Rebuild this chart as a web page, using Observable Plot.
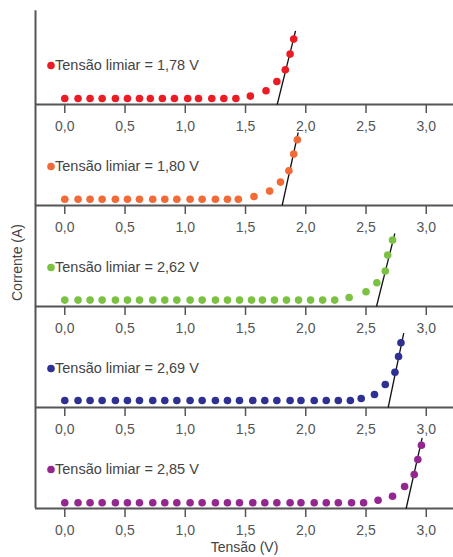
<!DOCTYPE html>
<html><head><meta charset="utf-8">
<script src="https://cdn.jsdelivr.net/npm/d3@7"></script>
<script src="https://cdn.jsdelivr.net/npm/@observablehq/plot@0.6"></script>
<style>body{margin:0;background:#fff;}</style>
</head><body><div id="chart"></div>
<script>
// Threshold voltages (one panel each) and point colours
const thresholds = [1.78, 1.80, 2.62, 2.69, 2.85];
const colors = ["#ec1c24", "#f26a36", "#7cc242", "#2e3192", "#93278f"];

// Measured points (Tensão V, Corrente in arbitrary units)
const v178 = [0,0.11,0.21,0.31,0.42,0.52,0.62,0.71,0.81,0.91,1.02,1.11,1.22,1.32,1.42,1.54,1.67,1.76,1.83,1.87,1.90];
const i178 = [6,6,6,6,6,6,6,6,6,6,6,6,6,6,6,8.4,13.7,23,34.7,50.4,65.4];
const v180 = [0,0.11,0.21,0.31,0.42,0.52,0.62,0.73,0.83,0.93,1.04,1.14,1.25,1.35,1.44,1.57,1.70,1.79,1.86,1.90,1.93];
const i180 = [6.3,6.3,6.3,6.3,6.3,6.3,6.3,6.3,6.3,6.3,6.3,6.3,6.3,6.3,6.3,9,14.4,23.4,34.7,51.4,65.7];
const v262 = [0,0.11,0.21,0.31,0.42,0.52,0.62,0.73,0.83,0.93,1.04,1.14,1.25,1.35,1.45,1.55,1.64,1.74,1.84,1.94,2.04,2.14,2.24,2.36,2.50,2.59,2.66,2.68,2.72];
const i262 = [6.4,6.4,6.4,6.4,6.4,6.4,6.4,6.4,6.4,6.4,6.4,6.4,6.4,6.4,6.4,6.4,6.4,6.4,6.4,6.4,6.4,6.4,6.4,9,14.7,23.7,35.4,51.4,66.4];
const v269 = [0,0.11,0.21,0.31,0.42,0.52,0.62,0.73,0.83,0.93,1.04,1.14,1.25,1.35,1.45,1.56,1.66,1.76,1.87,1.96,2.07,2.17,2.27,2.37,2.46,2.57,2.66,2.74,2.77,2.79];
const i269 = [7,7,7,7,7,7,7,7,7,7,7,7,7,7,7,7,7,7,7,7,7,7,7,7,9,13,23,35.3,51,64.7];
const v285 = [0,0.11,0.21,0.31,0.42,0.52,0.62,0.73,0.83,0.93,1.04,1.14,1.25,1.35,1.45,1.56,1.66,1.76,1.87,1.96,2.07,2.17,2.27,2.38,2.48,2.60,2.72,2.82,2.90,2.93,2.96];
const i285 = [5.7,5.7,5.7,5.7,5.7,5.7,5.7,5.7,5.7,5.7,5.7,5.7,5.7,5.7,5.7,5.7,5.7,5.7,5.7,5.7,5.7,5.7,5.7,5.7,5.7,8.3,12.3,22,34,49,63.3];

// Fitted tangent lines: axis intercept, upper end voltage, upper end current
const fitStart = [1.763, 1.804, 2.587, 2.684, 2.833];
const fitEnd   = [1.915, 1.937, 2.739, 2.813, 2.966];
const fitTop   = [73.7, 73, 73, 74.3, 70.7];

const xTicks = [0, 0.5, 1.0, 1.5, 2.0, 2.5, 3.0];

const series = [[v178,i178],[v180,i180],[v262,i262],[v269,i269],[v285,i285]];
const points = series.flatMap(([vs, is], k) => vs.map((v, j) => ({panel: thresholds[k], v, i: is[j]})));
const fits = thresholds.map((t, k) => ({panel: t, x1: fitStart[k], x2: fitEnd[k], y2: fitTop[k]}));
const axisRules = thresholds.map((t, k) => ({panel: t, top: k === 0 ? 93.7 : 101.3}));
const fmt = d => d.toFixed(2).replace(".", ",");
const xmin = -0.243, xmax = 3.226;

const chart = Plot.plot({
  width: 453,
  height: 557,
  marginLeft: 35,
  marginRight: 0,
  marginTop: 23.7,
  marginBottom: 48,
  style: {fontFamily: "Arial, 'Liberation Sans', sans-serif", fontSize: "14px", background: "#fff"},
  x: {domain: [xmin, xmax]},
  y: {domain: [0, 80], axis: null},
  fy: {domain: thresholds, axis: null, paddingInner: 0.2103, paddingOuter: 0},
  color: {domain: thresholds, range: colors},
  marks: [
    Plot.axisX({ticks: xTicks, tickFormat: d => d.toFixed(1).replace(".", ","), tickSize: 9, tickPadding: 8,
      fontSize: 14, color: "#555", strokeWidth: 1.5, label: null, facetAnchor: null}),
    Plot.ruleY([0], {stroke: "#555", strokeWidth: 2}),
    Plot.ruleX(axisRules, {fy: "panel", x: xmin, y1: 0, y2: "top", stroke: "#555", strokeWidth: 2}),
    Plot.link(fits, {fy: "panel", x1: "x1", y1: 0, x2: "x2", y2: "y2", stroke: "#111", strokeWidth: 1.3}),
    Plot.dot(points, {fy: "panel", x: "v", y: "i", fill: "panel", r: 3.8}),
    Plot.dot(thresholds, {fy: d => d, fill: d => d, frameAnchor: "bottom-left", dx: 15.5, dy: -39, r: 3.8}),
    Plot.text(thresholds, {fy: d => d, text: d => `Tensão limiar = ${fmt(d)} V`, frameAnchor: "bottom-left",
      dx: 19.5, dy: -39, textAnchor: "start", lineAnchor: "middle", fontSize: 14.5, fill: "#444"}),
    Plot.text([thresholds[2]], {fy: d => d, text: () => "Corrente (A)", frameAnchor: "left", rotate: -90,
      dx: -18, dy: -4, textAnchor: "middle", lineAnchor: "middle", fontSize: 14, fill: "#444"}),
    Plot.text([thresholds[4]], {fy: d => d, text: () => "Tensão (V)", frameAnchor: "bottom", dy: 39,
      textAnchor: "middle", lineAnchor: "middle", fontSize: 14, fill: "#444"})
  ]
});
document.getElementById("chart").append(chart);
</script>
</body></html>
